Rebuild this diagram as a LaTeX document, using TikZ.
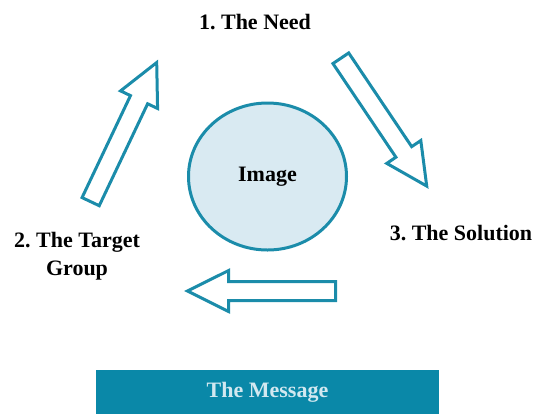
\documentclass[tikz,border=0pt]{standalone}
\usepackage{fontspec}
\setmainfont{Liberation Serif}
\usetikzlibrary{shapes.geometric,shapes.arrows}

\definecolor{tealline}{HTML}{1B8CAA}
\definecolor{barblue}{HTML}{0A88A8}
\definecolor{paleblue}{HTML}{D9EAF2}
\definecolor{bartext}{HTML}{D2E8F0}

\begin{document}
\frenchspacing
\begin{tikzpicture}[
                x = 0.5pt,
                y = -0.5pt,
                font = \fontsize{11}{14}\selectfont\bfseries
                ]

                \tikzstyle{stage}=[
                        align = center,
                        inner sep = 0pt
                ]
                \tikzstyle{bigarrow}=[
                        draw = tealline,
                        line width = 1.5pt,
                        fill = white,
                        single arrow,
                        single arrow head extend = 5.5pt,
                        single arrow tip angle = 53,
                        inner xsep = 0pt,
                        inner ysep = 4pt,
                        anchor = tail
                ]

                \useasboundingbox (0,0) rectangle (542,414);

                \node[stage] (need) at (255,22) {1. The Need};
                \node[stage] (solution) at (461,233) {3. The Solution};
                \node[stage] (target) at (77,256) {2. The Target\\Group};

                \node[ellipse, draw = tealline, line width = 1.5pt, fill = paleblue,
                      inner sep = 0pt, minimum width = 79pt, minimum height = 73.5pt] (image) at (267.5,176.5) {Image};

                \node[bigarrow, minimum height = 77pt, rotate = 64.6] (up) at (90,203) {};
                \node[bigarrow, minimum height = 77pt, rotate = -56.1] (down) at (340,57) {};
                \node[bigarrow, minimum height = 74pt, rotate = 180] (back) at (337,291) {};

                \node[fill = barblue, text = bartext, minimum width = 171.5pt,
                      minimum height = 22pt, inner sep = 0pt] (message) at (267.5,392) {The Message};
\end{tikzpicture}
\end{document}
